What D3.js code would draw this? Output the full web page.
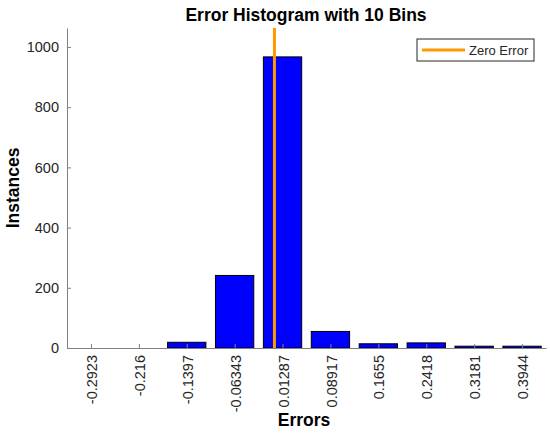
<!DOCTYPE html>
<html>
<head>
<meta charset="utf-8">
<script src="https://cdn.jsdelivr.net/npm/d3@7"></script>
<style>
  body { margin: 0; background: #fff; }
  text { font-family: "Liberation Sans", Arial, sans-serif; }
</style>
</head>
<body>
<div id="chart"></div>
<script>
// bin centres (tick labels) and counts
const binCenters = [-0.2923, -0.216, -0.1397, -0.06343, 0.01287, 0.08917, 0.1655, 0.2418, 0.3181, 0.3944];
const binLabels = ["-0.2923", "-0.216", "-0.1397", "-0.06343", "0.01287", "0.08917", "0.1655", "0.2418", "0.3181", "0.3944"];
const binCounts = [0, 0, 19, 241, 967, 55, 14, 17, 6, 6];
const yTicks = [0, 200, 400, 600, 800, 1000];
const zeroError = 0;

const width = 550, height = 434;
const margin = {top: 28, right: 4, bottom: 86, left: 67};
const binWidth = binCenters[1] - binCenters[0];

const svg = d3.select("#chart").append("svg")
  .attr("width", width)
  .attr("height", height);

const x = d3.scaleLinear()
  .domain([binCenters[0] - binWidth / 2, binCenters[binCenters.length - 1] + binWidth / 2])
  .range([margin.left, width - margin.right]);

const y = d3.scaleLinear()
  .domain([0, 1063])
  .range([height - margin.bottom, margin.top]);

const barW = (x(binWidth) - x(0)) * 0.8;

// bars
svg.append("g")
  .selectAll("rect")
  .data(binCenters)
  .enter()
  .append("rect")
  .attr("x", d => x(d) - barW / 2)
  .attr("width", barW)
  .attr("y", (d, i) => y(binCounts[i]))
  .attr("height", (d, i) => y(0) - y(binCounts[i]))
  .attr("fill", "#0000ff")
  .attr("stroke", "#000")
  .attr("stroke-width", 1);

// x axis (ticks inward)
const xAxis = svg.append("g")
  .attr("transform", "translate(0," + y(0) + ")")
  .call(d3.axisBottom(x).tickValues(binCenters).tickSize(-4).tickSizeOuter(0).tickFormat((d, i) => binLabels[i]));

xAxis.selectAll("text")
  .attr("transform", "rotate(-90)")
  .attr("x", -7)
  .attr("y", 0.5)
  .attr("dy", "0.35em")
  .style("text-anchor", "end")
  .style("font-size", "14.5px")
  .attr("fill", "#262626");

// y axis (ticks inward)
const yAxis = svg.append("g")
  .attr("transform", "translate(" + margin.left + ",0)")
  .call(d3.axisLeft(y).tickValues(yTicks).tickSize(-4).tickSizeOuter(0).tickPadding(8).tickFormat(d3.format("d")));

yAxis.selectAll("text")
  .style("font-size", "14.5px")
  .attr("fill", "#262626");

svg.selectAll(".domain").attr("stroke", "#808080");
svg.selectAll(".tick line").attr("stroke", "#808080");

// zero error line
svg.append("line")
  .attr("x1", x(zeroError))
  .attr("x2", x(zeroError))
  .attr("y1", y.range()[1])
  .attr("y2", y(0))
  .attr("stroke", "#ff9900")
  .attr("stroke-width", 3);

// title and axis labels
svg.append("text")
  .attr("x", 306)
  .attr("y", 21)
  .attr("text-anchor", "middle")
  .style("font-size", "17.5px")
  .style("font-weight", "bold")
  .text("Error Histogram with 10 Bins");

svg.append("text")
  .attr("x", 304)
  .attr("y", 426)
  .attr("text-anchor", "middle")
  .style("font-size", "17.5px")
  .style("font-weight", "bold")
  .text("Errors");

svg.append("text")
  .attr("transform", "translate(18.5," + (y(0) + margin.top) / 2 + ") rotate(-90)")
  .attr("text-anchor", "middle")
  .style("font-size", "17.5px")
  .style("font-weight", "bold")
  .text("Instances");

// legend
const legend = svg.append("g").attr("transform", "translate(417,39)");
legend.append("rect")
  .attr("width", 117)
  .attr("height", 22)
  .attr("fill", "#fff")
  .attr("stroke", "#262626")
  .attr("stroke-width", 1);
legend.append("line")
  .attr("x1", 5).attr("x2", 48)
  .attr("y1", 11).attr("y2", 11)
  .attr("stroke", "#ff9900")
  .attr("stroke-width", 3);
legend.append("text")
  .attr("x", 52)
  .attr("y", 15.5)
  .style("font-size", "13px")
  .attr("fill", "#262626")
  .text("Zero Error");
</script>
</body>
</html>
